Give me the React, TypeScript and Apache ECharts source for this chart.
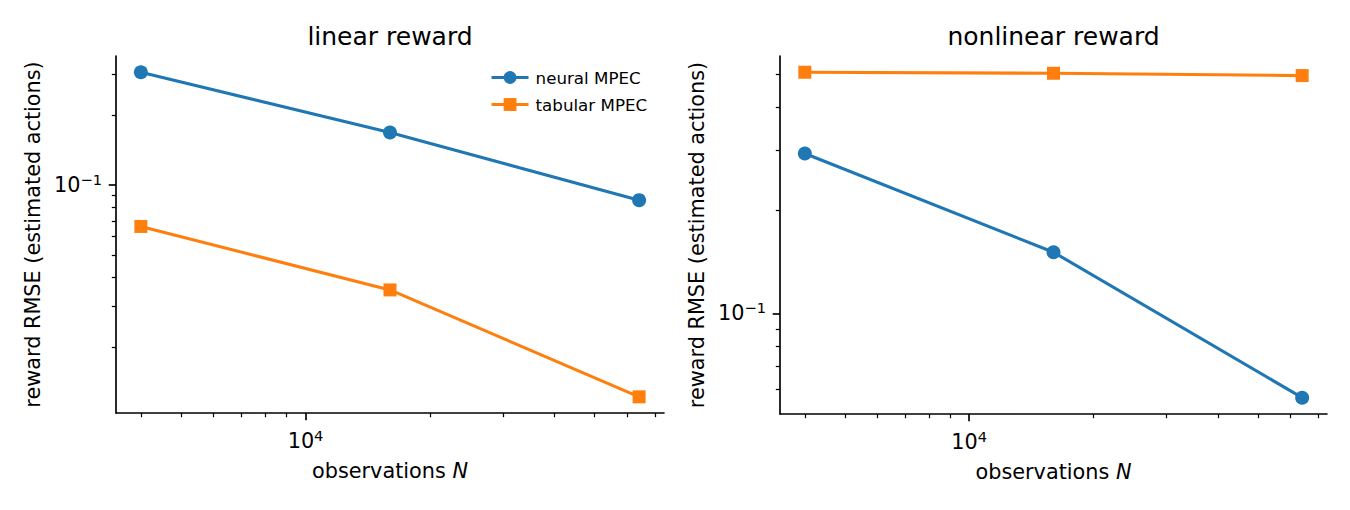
import React, { useEffect, useRef } from "react";
import * as echarts from "echarts";

// observations N
const observations = [4000, 16000, 64000];
// linear reward panel
const linearNeural = [0.3055, 0.168, 0.0859];
const linearTabular = [0.0662, 0.03528, 0.01222];
// nonlinear reward panel
const nonlinearNeural = [0.2931, 0.1509, 0.05672];
const nonlinearTabular = [0.5064, 0.503, 0.4952];

const seriesNames = ["neural MPEC", "tabular MPEC"];
const panelTitles = ["linear reward", "nonlinear reward"];
const xAxisTitle = "observations";
const yAxisTitle = "reward RMSE (estimated actions)";

// tick values
const xMajorTicks = [10000];
const xMinorTicks = [4000, 5000, 6000, 7000, 8000, 9000, 20000, 30000, 40000, 50000, 60000, 70000];
const yMajorTicks = [0.1];
const yMinorTicksLeft = [0.02, 0.03, 0.04, 0.05, 0.06, 0.07, 0.08, 0.09, 0.2, 0.3];
const yMinorTicksRight = [0.06, 0.07, 0.08, 0.09, 0.2, 0.3, 0.4, 0.5];

// axis extents (matplotlib auto margins)
const xRange = [3483, 73509];
const yRangeLeft = [0.01041, 0.3589];
const yRangeRight = [0.05083, 0.5649];

const BLUE = "#1f77b4";
const ORANGE = "#ff7f0e";
const FONT = "DejaVu Sans";

const supRich = {
  b: { fontSize: 20.8, fontFamily: FONT, color: "#000" },
  s: { fontSize: 14.6, fontFamily: FONT, color: "#000", padding: [0, 0, 11, 0] },
};

function supLabel(v: number) {
  const e = Math.round(Math.log10(v));
  const txt = e < 0 ? "\u2212" + Math.abs(e) : String(e);
  return "{b|10}{s|" + txt + "}";
}

export default function App() {
  const ref = useRef<HTMLDivElement>(null);
  useEffect(() => {
    if (!ref.current) return;
    const chart = echarts.init(ref.current, undefined, { renderer: "svg" });
    const grids = [
      { left: 116, top: 56, width: 548, height: 357 },
      { left: 780, top: 56, width: 547, height: 358 },
    ];
    const xAxes: any[] = [];
    const yAxes: any[] = [];
    [0, 1].forEach((g) => {
      xAxes.push({
        type: "log",
        logBase: 10,
        gridIndex: g,
        min: xRange[0],
        max: xRange[1],
        position: "bottom",
        axisLine: { show: true, onZero: false, lineStyle: { color: "#000", width: 1.67 } },
        axisTick: { show: true, customValues: xMajorTicks, length: 7.3, lineStyle: { color: "#000", width: 1.67 } },
        axisLabel: {
          show: true,
          customValues: xMajorTicks,
          formatter: (v: number) => supLabel(v),
          rich: supRich,
          margin: 15,
        },
        splitLine: { show: false },
        name: "{a|" + xAxisTitle + " }{i|N}",
        nameLocation: "middle",
        nameGap: 47,
        nameTextStyle: {
          rich: {
            a: { fontSize: 20.8, fontFamily: FONT, color: "#000" },
            i: { fontSize: 20.8, fontFamily: FONT, fontStyle: "italic", color: "#000" },
          },
        },
      });
      xAxes.push({
        type: "log",
        logBase: 10,
        gridIndex: g,
        min: xRange[0],
        max: xRange[1],
        position: "bottom",
        axisLine: { show: false },
        axisTick: { show: true, customValues: xMinorTicks, length: 4.2, lineStyle: { color: "#000", width: 1.25 } },
        axisLabel: { show: false },
        splitLine: { show: false },
      });
      const yr = g === 0 ? yRangeLeft : yRangeRight;
      const ym = g === 0 ? yMinorTicksLeft : yMinorTicksRight;
      yAxes.push({
        type: "log",
        logBase: 10,
        gridIndex: g,
        min: yr[0],
        max: yr[1],
        position: "left",
        axisLine: { show: true, onZero: false, lineStyle: { color: "#000", width: 1.67 } },
        axisTick: { show: true, customValues: yMajorTicks, length: 7.3, lineStyle: { color: "#000", width: 1.67 } },
        axisLabel: {
          show: true,
          customValues: yMajorTicks,
          formatter: (v: number) => supLabel(v),
          rich: supRich,
          margin: 14,
        },
        splitLine: { show: false },
        name: yAxisTitle,
        nameLocation: "middle",
        nameGap: 73,
        nameTextStyle: { fontSize: 20.8, fontFamily: FONT, color: "#000" },
      });
      yAxes.push({
        type: "log",
        logBase: 10,
        gridIndex: g,
        min: yr[0],
        max: yr[1],
        position: "left",
        axisLine: { show: false },
        axisTick: { show: true, customValues: ym, length: 4.2, lineStyle: { color: "#000", width: 1.25 } },
        axisLabel: { show: false },
        splitLine: { show: false },
      });
    });

    const mk = (name: string, vals: number[], g: number, color: string, symbol: string) => ({
      type: "line",
      name,
      xAxisIndex: g * 2,
      yAxisIndex: g * 2,
      data: observations.map((x, i) => [x, vals[i]]),
      symbol,
      symbolSize: symbol === "circle" ? 14 : 13,
      showAllSymbol: true,
      lineStyle: { color, width: 3.1 },
      itemStyle: { color },
      emphasis: { disabled: true },
    });

    chart.setOption({
      animation: false,
      backgroundColor: "#fff",
      title: panelTitles.map((t, i) => ({
        text: t,
        left: i === 0 ? 390 : 1053.5,
        textAlign: "center",
        top: 24,
        padding: 0,
        textStyle: { fontSize: 25, fontWeight: "normal", fontFamily: FONT, color: "#000" },
      })),
      legend: {
        orient: "vertical",
        left: 490,
        top: 69,
        itemWidth: 37,
        itemHeight: 16,
        itemGap: 10,
        padding: 0,
        data: seriesNames,
        lineStyle: { width: 3.1 },
        textStyle: { fontSize: 16.7, fontFamily: FONT, color: "#000", padding: [0, 0, 0, 2] },
        selectedMode: false,
      },
      grid: grids,
      xAxis: xAxes,
      yAxis: yAxes,
      series: [
        mk(seriesNames[0], linearNeural, 0, BLUE, "circle"),
        mk(seriesNames[1], linearTabular, 0, ORANGE, "rect"),
        mk(seriesNames[0], nonlinearNeural, 1, BLUE, "circle"),
        mk(seriesNames[1], nonlinearTabular, 1, ORANGE, "rect"),
      ],
    });
    return () => chart.dispose();
  }, []);
  return (
    <div
      ref={ref}
      style={{ position: "fixed", left: 0, top: 0, width: 1350, height: 510, background: "#fff" }}
    />
  );
}
